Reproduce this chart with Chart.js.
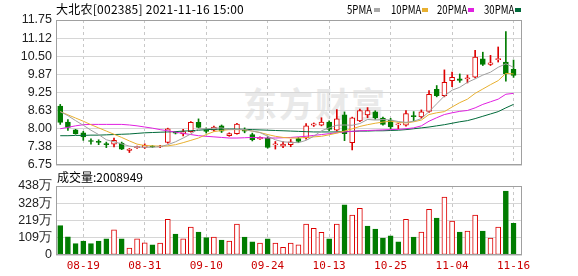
<!DOCTYPE html>
<html><head><meta charset="utf-8">
<script src="https://cdn.jsdelivr.net/npm/chart.js@4/dist/chart.umd.min.js"></script>
<style>
html,body{margin:0;padding:0;background:#fff;}
#wrap{position:relative;width:578px;height:276px;overflow:hidden;background:#fff;}
canvas{position:absolute;left:0;}
.t{position:absolute;font-family:"Noto Sans CJK SC",sans-serif;font-size:12px;color:#000;white-space:nowrap;line-height:12px;}
.lg{transform:scaleX(0.8);transform-origin:0 0;}
.sq{position:absolute;width:6px;height:4px;}
#wm{position:absolute;left:243px;top:78px;font-family:"Noto Sans CJK SC",sans-serif;font-weight:bold;font-size:34px;color:#e9e9e9;letter-spacing:2px;white-space:nowrap;}
</style></head><body>
<div id="wrap">
<div id="wm">东方财富</div>
<canvas id="c2" width="578" height="106" style="top:170px"></canvas>
<canvas id="c1" width="578" height="177" style="top:0"></canvas>
<div class="t" style="left:56px;top:3px;letter-spacing:0.25px">大北农[002385] 2021-11-16 15:00</div>
<div class="t lg" style="left:347px;top:3px">5PMA</div><div class="sq" style="left:374px;top:8px;background:#a8a8a8"></div>
<div class="t lg" style="left:391px;top:3px">10PMA</div><div class="sq" style="left:422px;top:8px;background:#e8b030"></div>
<div class="t lg" style="left:437px;top:3px">20PMA</div><div class="sq" style="left:468px;top:8px;background:#e020e0"></div>
<div class="t lg" style="left:484px;top:3px">30PMA</div><div class="sq" style="left:515px;top:8px;background:#006a3a"></div>
<div class="t" style="left:57px;top:171px;font-size:12px;">成交量:2008949</div>
</div>
<script>
const dates = ['08-16','08-17','08-18','08-19','08-20','08-23','08-24','08-25','08-26','08-27','08-30','08-31','09-01','09-02','09-03','09-06','09-07','09-08','09-09','09-10','09-13','09-14','09-15','09-16','09-17','09-22','09-23','09-24','09-27','09-28','09-29','09-30','10-08','10-11','10-12','10-13','10-14','10-15','10-18','10-19','10-20','10-21','10-22','10-25','10-26','10-27','10-28','10-29','11-01','11-02','11-03','11-04','11-05','11-08','11-09','11-10','11-11','11-12','11-15','11-16'];
const xTickIdx = [3,11,19,27,35,43,51,59];
const openP  = [8.78,8.23,7.96,7.86,7.58,7.56,7.46,7.47,7.51,7.25,7.35,7.36,7.40,7.37,7.53,7.87,7.82,7.90,8.22,7.97,7.95,8.10,7.76,7.83,7.97,7.80,7.65,7.68,7.44,7.40,7.45,7.66,7.68,8.12,8.12,8.23,7.95,8.48,7.52,8.27,8.48,8.58,8.37,8.30,8.13,8.12,8.45,8.41,8.60,9.36,9.14,9.66,9.72,9.72,9.78,10.41,10.22,10.38,10.30,10.05];
const highP  = [8.84,8.32,7.98,7.91,7.65,7.62,7.54,7.68,7.54,7.32,7.40,7.48,7.42,7.43,8.02,7.90,7.98,8.25,8.34,8.03,8.09,8.13,7.86,8.19,8.03,7.85,7.72,7.72,7.56,7.56,7.63,7.70,8.18,8.20,8.38,8.27,8.66,8.58,8.40,8.68,8.73,8.62,8.40,8.36,8.18,8.63,8.59,8.65,9.32,9.49,10.03,9.95,9.89,9.85,10.70,10.64,10.53,10.82,11.35,10.37];
const lowP   = [8.15,7.94,7.81,7.60,7.47,7.45,7.35,7.37,7.28,7.18,7.32,7.32,7.35,7.35,7.50,7.82,7.75,7.88,8.03,7.85,7.92,7.87,7.74,7.81,7.86,7.58,7.63,7.33,7.30,7.35,7.38,7.52,7.64,8.08,8.10,7.93,7.92,7.59,7.27,8.24,8.38,8.33,8.12,8.00,8.00,8.09,8.28,8.36,8.56,9.10,9.10,9.45,9.60,9.58,9.75,10.18,10.18,10.30,9.64,9.77];
const closeP = [8.22,8.05,7.83,7.72,7.56,7.53,7.45,7.60,7.30,7.30,7.36,7.44,7.37,7.40,8.00,7.85,7.90,8.22,8.05,7.91,8.06,7.92,7.83,8.16,7.92,7.62,7.70,7.36,7.48,7.47,7.55,7.56,8.10,8.17,8.23,7.98,8.34,7.83,8.38,8.63,8.63,8.37,8.15,8.06,8.17,8.52,8.42,8.58,9.19,9.14,9.60,9.77,9.67,9.76,10.47,10.22,10.27,10.42,9.90,9.84];
const volume = [186,116,72,89,72,89,102,159,102,44,102,78,64,76,226,133,102,178,146,110,114,95,89,197,114,83,76,102,76,49,76,64,197,169,144,102,197,318,254,296,184,165,108,121,83,226,114,146,290,235,368,216,146,152,254,152,108,178,406,200.9];
const volUp  = [0,0,0,0,0,0,0,1,0,1,1,1,0,1,1,0,1,1,0,0,1,0,1,1,0,0,1,0,1,1,1,1,1,1,1,0,1,0,1,1,0,0,0,0,0,1,0,1,1,0,1,1,0,1,1,0,1,1,0,0];
const ma5  = [8.59,8.45,8.28,8.12,7.95,7.80,7.62,7.55,7.48,7.40,7.37,7.36,7.36,7.38,7.45,7.55,7.68,7.82,8.00,8.00,8.02,8.03,7.97,7.98,7.97,7.92,7.87,7.74,7.62,7.55,7.53,7.52,7.60,7.74,7.93,8.03,8.12,8.13,8.12,8.18,8.32,8.30,8.32,8.30,8.25,8.22,8.26,8.35,8.59,8.86,9.13,9.33,9.43,9.60,9.72,9.85,9.95,10.12,10.24,10.12];
const ma10 = [8.59,8.48,8.37,8.26,8.14,8.03,7.92,7.81,7.70,7.58,7.47,7.42,7.41,7.40,7.41,7.45,7.52,7.60,7.68,7.80,7.90,7.94,7.97,7.97,7.96,7.92,7.87,7.80,7.74,7.70,7.68,7.68,7.70,7.72,7.74,7.79,7.85,7.92,8.00,8.08,8.14,8.19,8.23,8.26,8.22,8.20,8.24,8.30,8.49,8.55,8.59,8.75,8.90,9.02,9.22,9.37,9.52,9.66,9.91,9.89];
const ma20 = [8.00,8.05,8.10,8.14,8.15,8.15,8.15,8.15,8.15,8.13,8.10,8.06,8.02,7.97,7.93,7.88,7.84,7.80,7.76,7.74,7.72,7.70,7.68,7.68,7.69,7.70,7.69,7.68,7.68,7.69,7.70,7.72,7.74,7.77,7.80,7.83,7.86,7.89,7.91,7.93,7.94,7.95,7.96,7.97,7.98,8.00,8.03,8.10,8.26,8.38,8.49,8.55,8.60,8.63,8.72,8.84,8.93,9.02,9.19,9.22];
const ma30 = [7.76,7.76,7.77,7.77,7.78,7.78,7.79,7.80,7.81,7.82,7.84,7.86,7.87,7.88,7.89,7.90,7.92,7.93,7.95,7.97,7.98,7.99,7.99,7.99,7.98,7.97,7.96,7.95,7.94,7.93,7.92,7.91,7.90,7.89,7.89,7.89,7.89,7.90,7.91,7.92,7.92,7.93,7.93,7.94,7.95,7.97,8.00,8.03,8.06,8.10,8.14,8.19,8.24,8.28,8.35,8.43,8.51,8.59,8.72,8.84];
const priceTicks = [6.75,7.375,8.0,8.625,9.25,9.875,10.5,11.125,11.75];
const priceTickLabels = ['6.75','7.38','8.00','8.63','9.25','9.87','10.50','11.12','11.75'];
const volTicks = [0,109.5,219,328.5,438];
const volTickLabels = ['0','109万','219万','328万','438万'];

const RED='#dd0000', GREEN='#007c00';
const X_MIN=-0.55, X_MAX=60.1;
const yFont={family:'"Liberation Sans", Arial, sans-serif',size:12.5};

const frame={id:'frame',afterDraw(c){const a=c.chartArea,x=c.ctx;x.save();x.strokeStyle='#a0a0a0';x.lineWidth=1;x.strokeRect(Math.round(a.left)+0.5,Math.round(a.top)+0.5,Math.round(a.right-a.left)-1,Math.round(a.bottom-a.top)-1);x.restore();}};

function xScale(showLabels){
  return {type:'linear',min:X_MIN,max:X_MAX,offset:false,
    afterBuildTicks:s=>{s.ticks=xTickIdx.map(v=>({value:v}));},
    ticks:{display:showLabels,autoSkip:false,maxRotation:0,padding:5,color:'#cc0000',
      font:{family:'"DejaVu Sans Mono", monospace',size:11},
      callback:v=>dates[v]},
    grid:{color:'#c8c8c8',drawTicks:false,offset:false},
    border:{display:false,dash:[3,3]},
    afterFit:s=>{s.height=showLabels?21:0;}};
}
function yScale(min,max,ticks,labels){
  return {min:min,max:max,
    afterBuildTicks:s=>{s.ticks=ticks.map(v=>({value:v}));},
    ticks:{autoSkip:false,padding:4,color:'#222',font:yFont,callback:(v,i)=>labels[i]},
    grid:{color:'#d6d6d6',drawTicks:false},border:{display:false},
    afterFit:s=>{s.width=56;}};
}
const up = closeP.map((c,i)=>c>=openP[i]);
const mk=(arr)=>arr.map((v,i)=>({x:i,y:v}));
const line=(arr,col)=>({type:'line',data:mk(arr),borderColor:col,borderWidth:1,pointRadius:0,tension:0,fill:false});

new Chart(document.getElementById('c1'),{
  data:{datasets:[
    line(ma5,'#a0a0a0'),
    line(ma10,'#e8b030'),
    line(ma20,'#e020e0'),
    line(ma30,'#006a3a'),
    {type:'bar',grouped:false,barThickness:5,minBarLength:1,borderSkipped:false,borderWidth:1,
     data:openP.map((o,i)=>({x:i,y:[o,closeP[i]]})),
     backgroundColor:openP.map((o,i)=>up[i]?'#ffffff':GREEN),
     borderColor:openP.map((o,i)=>up[i]?RED:GREEN)},
    {type:'bar',grouped:false,barThickness:1,borderWidth:0,
     data:lowP.map((l,i)=>({x:i,y:[l,highP[i]]})),
     backgroundColor:lowP.map((l,i)=>up[i]?RED:GREEN)}
  ]},
  options:{responsive:false,animation:false,events:[],
    layout:{autoPadding:false,padding:{top:20,bottom:12,left:0,right:56}},
    plugins:{legend:{display:false},tooltip:{enabled:false}},
    scales:{x:xScale(false), y:yScale(6.75,11.75,priceTicks,priceTickLabels)}},
  plugins:[frame]
});

new Chart(document.getElementById('c2'),{
  data:{datasets:[
    {type:'bar',grouped:false,barThickness:5,borderSkipped:false,borderWidth:1,
     data:volume.map((v,i)=>({x:i,y:v})),
     backgroundColor:volUp.map(u=>u?'#ffffff':GREEN),
     borderColor:volUp.map(u=>u?RED:GREEN)}
  ]},
  options:{responsive:false,animation:false,events:[],
    layout:{autoPadding:false,padding:{top:16,bottom:0,left:0,right:56}},
    plugins:{legend:{display:false},tooltip:{enabled:false}},
    scales:{x:xScale(true), y:yScale(0,438,volTicks,volTickLabels)}},
  plugins:[frame]
});
</script>
</body></html>
